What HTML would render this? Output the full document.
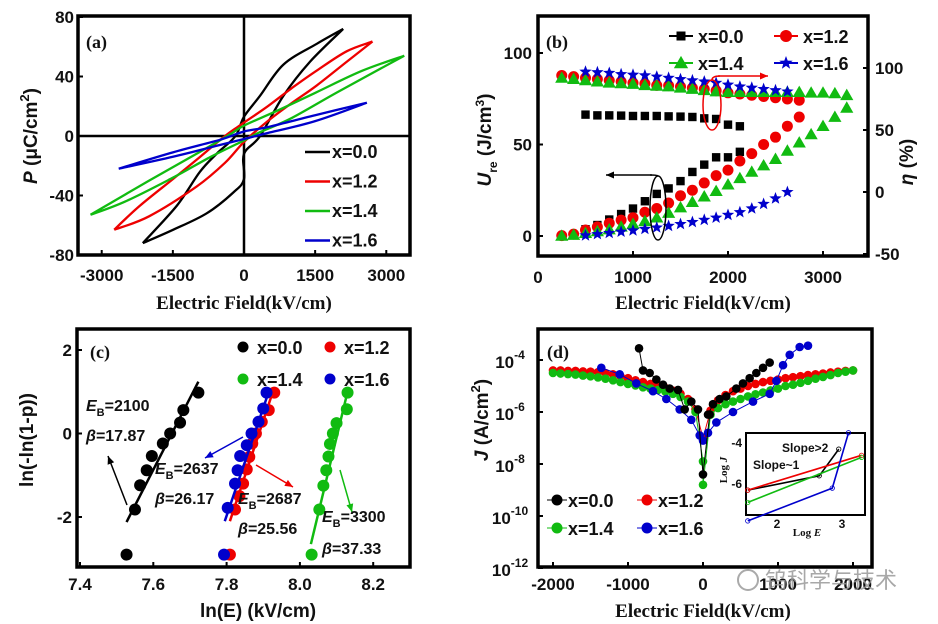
<!DOCTYPE html>
<html><head><meta charset="utf-8">
<style>
html,body{margin:0;padding:0;background:#fff;}
svg{display:block;}
.tk{font-family:"Liberation Sans",sans-serif;font-weight:bold;font-size:17px;fill:#111;}
.tt{font-family:"Liberation Serif",serif;font-weight:bold;font-size:19px;fill:#111;}
.yt{font-family:"Liberation Sans",sans-serif;font-weight:bold;font-size:19px;fill:#111;}
.lg{font-family:"Liberation Sans",sans-serif;font-weight:bold;font-size:18px;fill:#111;}
.an{font-family:"Liberation Sans",sans-serif;font-weight:bold;font-size:16px;fill:#111;}
.pl{font-family:"Liberation Serif",serif;font-weight:bold;font-size:18px;fill:#111;}
</style></head>
<body>
<svg id="fig" width="938" height="624" viewBox="0 0 938 624" xmlns="http://www.w3.org/2000/svg">
<g id="gA"></g>
<g id="gB"></g>
<g id="gC"></g>
<g id="gD"></g>
<text x="765" y="588" style="font-family:'Liberation Sans','Noto Sans CJK SC',sans-serif;font-size:22px;fill:#999;opacity:0.85">钨科学与技术</text>
<circle cx="748" cy="580" r="10" fill="none" stroke="#aaa" stroke-width="2"/>
</svg>
<script>
// ---------- Panel (a) data: P-E loops ----------
const aSeriesNames = ["x=0.0","x=1.2","x=1.4","x=1.6"];
const aColors = ["#000","#e00","#1b1","#00c"];
const aUpperE = [
 [2092,1535,830,338,0,-180,-577,-928,-1420,-2134],
 [2710,2169,1535,1000,500,0,-400,-1000,-1500,-2200,-2737],
 [3380,2500,1500,700,0,-300,-1000,-2000,-3236],
 [2592,1500,500,0,-500,-1500,-2641]];
const aUpperP = [
 [72,62,48,27,13,0,-12,-24,-47,-72],
 [63.5,57,44,32,20,9,0,-16,-29,-47,-63],
 [54,44,29,17,7,1,-12,-30,-53],
 [22.4,14,6,3,-2.5,-11,-22]];
const aLowerE = [
 [-2134,-1491,-787,-225,0,0,340,830,1394,2092],
 [-2737,-2000,-1000,-400,0,500,1000,1535,2169,2710],
 [-3236,-2500,-1500,-700,0,300,1000,2000,3380],
 [-2641,-1500,-500,0,500,1500,2592]];
const aLowerP = [
 [-72,-63,-52,-38,-29,-12,0,27,50,72],
 [-63,-54,-34,-18,-4,10,22,34,50,63.5],
 [-53,-44,-28,-14,-3,2,12,30,54],
 [-22,-14,-6,-2,2,10,22.4]];
const aXTicks = [-3000,-1500,0,1500,3000];
const aYTicks = [80,40,0,-40,-80];

// ---------- Panel (b) data ----------
const bE0 = [500,625,750,875,1000,1125,1250,1375,1500,1625,1750,1875,2000,2125];
const bU0 = [3.7,6,9,12,15,19,23,26,30,35,39,43,43,46];
const bEta0 = [62.4,61.8,61.8,61.6,61.3,61.3,61.3,61,60.8,60.5,59.4,58.9,54.3,53];
const bE1 = [250,375,500,625,750,875,1000,1125,1250,1375,1500,1625,1750,1875,2000,2125,2250,2375,2500,2625,2750];
const bU1 = [0.2,1,3.3,5,7,8.7,10,13,15,18,22,25,29,33,36,41,45,50,54,60,65];
const bEta1 = [94,93,92,91,90,89,88,87.4,86,85.8,85,84,83,81.7,80,79,78,77,76,75,74];
const bE2 = [250,375,500,625,750,875,1000,1125,1250,1375,1500,1625,1750,1875,2000,2125,2250,2375,2500,2625,2750,2875,3000,3125,3250];
const bU2 = [0,0.5,1.5,2.5,3.5,5,6.5,8,10,12.5,15.5,18.5,21.5,24.5,28,31.5,35,38.5,42,46.5,51,55.5,60,65,70];
const bEta2 = [92,91,90,89,88,87.5,87,86,85.5,85,84,83,82,81,80.5,80.5,80.5,80.5,80.5,80.5,80.5,80,80,79.5,78];
const bE3 = [500,625,750,875,1000,1125,1250,1375,1500,1625,1750,1875,2000,2125,2250,2375,2500,2625];
const bU3 = [0.3,1,1.6,2.3,3,3.8,4.6,5.5,6.5,7.6,8.8,10,11.5,13,15,17.5,20.5,24];
const bEta3 = [97,96.5,96,95,94.5,94,93,92,91,90,89,88,86.5,85,84,83,82,81];
const bXTicks = [0,1000,2000,3000];
const bYLTicks = [0,50,100];
const bYRTicks = [-50,0,50,100];

// ---------- Panel (c) data: Weibull ----------
const cX0 = [7.527,7.55,7.564,7.582,7.596,7.626,7.646,7.673,7.682,7.723];
const cY0 = [-2.9,-1.82,-1.24,-0.88,-0.54,-0.24,0,0.26,0.56,0.98];
const cX1 = [7.809,7.823,7.835,7.845,7.855,7.862,7.87,7.88,7.896,7.915,7.93];
const cY1 = [-2.9,-1.82,-1.5,-1.2,-0.86,-0.56,-0.24,0,0.28,0.56,0.98];
const cX2 = [8.032,8.053,8.064,8.072,8.078,8.082,8.09,8.1,8.128,8.13];
const cY2 = [-2.9,-1.82,-1.25,-0.88,-0.55,-0.25,0,0.25,0.58,0.98];
const cX3 = [7.793,7.803,7.823,7.83,7.837,7.855,7.868,7.887,7.9,7.909];
const cY3 = [-2.9,-1.78,-1.2,-0.88,-0.54,-0.28,0,0.28,0.6,0.98];
const cFitX = [[7.527,7.723],[7.809,7.93],[8.03,8.13],[7.795,7.915]];
const cFitY = [[-2.12,1.24],[-2.1,1.1],[-2.65,1.0],[-2.1,1.0]];
const cXTicks = [7.4,7.6,7.8,8.0,8.2];
const cYTicks = [2,0,-2];

// ---------- Panel (d) data: leakage (log10 J) ----------
const dE0 = [-853,-800,-711,-622,-533,-444,-333,-244,-156,-67,0,89,67,133,222,311,444,533,622,711,800,889];
const dL0 = [-3.55,-4.4,-4.5,-4.75,-4.95,-5.1,-5.15,-5.9,-5.6,-5.9,-8.4,-6.1,-6.1,-5.7,-5.5,-5.4,-5.1,-4.9,-4.7,-4.5,-4.3,-4.1];
const dE1 = [-2000,-1900,-1800,-1700,-1600,-1500,-1400,-1300,-1200,-1100,-1000,-900,-800,-700,-600,-500,-400,-300,-200,-100,0,100,200,300,400,500,600,700,800,900,1000,1100,1200,1300,1400,1500,1600,1700,1800,1900,2000];
const dL1 = [-4.4,-4.4,-4.42,-4.42,-4.44,-4.45,-4.47,-4.5,-4.55,-4.62,-4.7,-4.78,-4.85,-4.92,-5.0,-5.08,-5.18,-5.3,-5.5,-5.9,-7.0,-5.95,-5.55,-5.35,-5.2,-5.1,-5.0,-4.92,-4.85,-4.8,-4.75,-4.7,-4.66,-4.62,-4.58,-4.55,-4.52,-4.48,-4.45,-4.42,-4.4];
const dE2 = [-2000,-1900,-1800,-1700,-1600,-1500,-1400,-1300,-1200,-1100,-1000,-900,-800,-700,-600,-500,-400,-300,-200,-100,0,0,100,200,300,400,500,600,700,800,900,1000,1100,1200,1300,1400,1500,1600,1700,1800,1900,2000];
const dL2 = [-4.5,-4.52,-4.54,-4.56,-4.6,-4.63,-4.67,-4.72,-4.78,-4.85,-4.92,-4.98,-5.05,-5.1,-5.15,-5.22,-5.3,-5.42,-5.6,-6.0,-7.9,-8.8,-6.1,-5.85,-5.7,-5.6,-5.5,-5.4,-5.32,-5.25,-5.17,-5.1,-5.0,-4.95,-4.88,-4.8,-4.72,-4.65,-4.58,-4.5,-4.45,-4.4];
const dE3 = [-1356,-1111,-889,-667,-489,-311,-156,-44,0,67,178,400,667,889,978,1067,1156,1289,1400];
const dL3 = [-4.3,-4.55,-4.9,-5.2,-5.5,-5.9,-6.3,-6.9,-7.1,-6.8,-6.4,-6.0,-5.6,-5.3,-4.8,-4.2,-3.8,-3.5,-3.45];
const dXTicks = [-2000,-1000,0,1000,2000];
const dYTicks = [-4,-6,-8,-10,-12];
// inset
const inSegX = [[1.55,2.65,2.95],[1.55,3.3],[1.55,3.3],[1.55,2.85,3.1]];
const inSegY = [[-6.3,-5.6,-4.3],[-6.3,-4.6],[-6.9,-4.7],[-7.8,-6.2,-3.5]];

// ---------- helpers ----------
const NS="http://www.w3.org/2000/svg";
function lin(d0,d1,r0,r1){return v=>r0+(v-d0)*(r1-r0)/(d1-d0);}
function mk(parent,tag,attrs,text){const e=document.createElementNS(NS,tag);for(const k in attrs)e.setAttribute(k,attrs[k]);if(text!==undefined)e.textContent=text;parent.appendChild(e);return e;}
function smooth(p){ // catmull-rom through pixel points
  let d='M'+p[0][0].toFixed(1)+' '+p[0][1].toFixed(1);
  for(let i=0;i<p.length-1;i++){
    const p0=p[i-1]||p[i],p1=p[i],p2=p[i+1],p3=p[i+2]||p2;
    const c1=[p1[0]+(p2[0]-p0[0])/6,p1[1]+(p2[1]-p0[1])/6];
    const c2=[p2[0]-(p3[0]-p1[0])/6,p2[1]-(p3[1]-p1[1])/6];
    d+=` C${c1[0].toFixed(1)} ${c1[1].toFixed(1)} ${c2[0].toFixed(1)} ${c2[1].toFixed(1)} ${p2[0].toFixed(1)} ${p2[1].toFixed(1)}`;
  }
  return d;
}
function frame(g,x0,y0,x1,y1){
  const r=mk(g,'rect',{x:x0,y:y0,width:x1-x0,height:y1-y0,fill:'none',stroke:'#000','stroke-width':3.5});
  
  
}
function marker(g,type,x,y,c,s){
  let e;
  if(type==='sq'){e=mk(g,'rect',{x:x-s,y:y-s,width:2*s,height:2*s,fill:c});}
  else if(type==='ci'){e=mk(g,'circle',{cx:x,cy:y,r:s,fill:c});}
  else if(type==='tr'){e=mk(g,'polygon',{points:`${x},${y-s*1.1} ${x-s*1.1},${y+s*0.8} ${x+s*1.1},${y+s*0.8}`,fill:c});}
  else {let p=[];for(let i=0;i<10;i++){const a=-Math.PI/2+i*Math.PI/5;const r=i%2?s*0.42:s;p.push((x+r*Math.cos(a)).toFixed(1)+','+(y+r*Math.sin(a)).toFixed(1));}e=mk(g,'polygon',{points:p.join(' '),fill:c});}
  return e;
}
function arrow(g,x1,y1,x2,y2,c){
  mk(g,'line',{x1,y1,x2,y2,stroke:c,'stroke-width':1.5});
  const a=Math.atan2(y2-y1,x2-x1),L=8,W=3.5;
  mk(g,'polygon',{points:`${x2},${y2} ${x2-L*Math.cos(a)+W*Math.sin(a)},${y2-L*Math.sin(a)-W*Math.cos(a)} ${x2-L*Math.cos(a)-W*Math.sin(a)},${y2-L*Math.sin(a)+W*Math.cos(a)}`,fill:c});
}

// ---------- Panel A ----------
(function(){
 const g=document.getElementById('gA');
 const sx=lin(-3500,3500,78,410), sy=lin(-80,80,255,17);
 mk(g,'line',{x1:sx(0),y1:17,x2:sx(0),y2:255,stroke:'#000','stroke-width':2.5});
 mk(g,'line',{x1:78,y1:sy(0),x2:410,y2:sy(0),stroke:'#000','stroke-width':2.5});
 for(let i=0;i<4;i++){
   const up=aUpperE[i].map((e,j)=>[sx(e),sy(aUpperP[i][j])]);
   const lo=aLowerE[i].map((e,j)=>[sx(e),sy(aLowerP[i][j])]);
   const p=mk(g,'path',{d:smooth(up)+' '+smooth(lo),fill:'none',stroke:aColors[i],'stroke-width':2.3,'stroke-linejoin':'round'});
   
   
   const ly=152+i*29.5;
   mk(g,'line',{x1:305,y1:ly,x2:330,y2:ly,stroke:aColors[i],'stroke-width':2.5});
   const t=mk(g,'text',{x:332,y:ly+6,class:'lg'},aSeriesNames[i]);
   
   
 }
 frame(g,78,16,410,255);
 aXTicks.forEach(v=>{mk(g,'line',{x1:sx(v),y1:255,x2:sx(v),y2:250,stroke:'#000','stroke-width':2});
   const t=mk(g,'text',{x:sx(v),y:281,class:'tk','text-anchor':'middle'},String(v));
   });
 aYTicks.forEach(v=>{mk(g,'line',{x1:78,y1:sy(v),x2:83,y2:sy(v),stroke:'#000','stroke-width':2});
   const t=mk(g,'text',{x:74,y:sy(v)+6,class:'tk','text-anchor':'end'},String(v));
   });
 let t=mk(g,'text',{x:244,y:309,class:'tt','text-anchor':'middle'},'Electric Field(kV/cm)');
 
 t=mk(g,'text',{x:0,y:0,class:'yt','text-anchor':'middle',transform:'translate(37,136) rotate(-90)'});
 t.innerHTML='<tspan font-style="italic">P</tspan> (μC/cm<tspan dy="-8" font-size="13">2</tspan><tspan dy="8">)</tspan>';
 
 t=mk(g,'text',{x:86,y:48,class:'pl'},'(a)');
 
})();

// ---------- Panel B ----------
(function(){
 const g=document.getElementById('gB');
 const sx=lin(0,1000,538,633), syL=lin(0,100,236,53), syR=lin(0,100,192,68);
 const sets=[[bE0,bU0,bEta0,'sq','#000',4.2],[bE1,bU1,bEta1,'ci','#e00',5.5],[bE2,bU2,bEta2,'tr','#1b1',6],[bE3,bU3,bEta3,'st','#00c',6.5]];
 sets.forEach(([E,U,H,ty,c,s],i)=>{
   E.forEach((e,j)=>{const m=marker(g,ty,sx(e),syR(H[j]),c,s);
     });
 });
 sets.forEach(([E,U,H,ty,c,s],i)=>{
   E.forEach((e,j)=>{const m=marker(g,ty,sx(e),syL(U[j]),c,s);
     });
 });
 mk(g,'ellipse',{cx:712,cy:105,rx:9,ry:25,fill:'none',stroke:'#e00','stroke-width':1.5});
 mk(g,'path',{d:'M712 80 Q712 76 720 76',fill:'none',stroke:'#e00','stroke-width':1.5});
 arrow(g,718,76,768,76,'#e00');
 mk(g,'ellipse',{cx:658,cy:208,rx:8,ry:32,fill:'none',stroke:'#000','stroke-width':1.5});
 mk(g,'path',{d:'M658 176 Q658 175 650 175',fill:'none',stroke:'#000','stroke-width':1.5});
 arrow(g,652,175,606,175,'#000');
 frame(g,538,16,868,256);
 bXTicks.forEach(v=>{mk(g,'line',{x1:sx(v),y1:256,x2:sx(v),y2:251,stroke:'#000','stroke-width':2});
   const t=mk(g,'text',{x:sx(v),y:283,class:'tk','text-anchor':'middle'},String(v));
   });
 bYLTicks.forEach(v=>{mk(g,'line',{x1:538,y1:syL(v),x2:543,y2:syL(v),stroke:'#000','stroke-width':2});
   const t=mk(g,'text',{x:532,y:syL(v)+6,class:'tk','text-anchor':'end'},String(v));
   });
 bYRTicks.forEach(v=>{mk(g,'line',{x1:868,y1:syR(v),x2:863,y2:syR(v),stroke:'#000','stroke-width':2});
   const t=mk(g,'text',{x:875,y:syR(v)+6,class:'tk'},String(v));
   });
 const leg=[['x=0.0','sq','#000',4.5,681,36],['x=1.2','ci','#e00',6,786,36],['x=1.4','tr','#1b1',6.5,681,63],['x=1.6','st','#00c',7,786,63]];
 leg.forEach(([n,ty,c,s,x,y])=>{
   mk(g,'line',{x1:x-12,y1:y,x2:x+12,y2:y,stroke:c,'stroke-width':2});
   marker(g,ty,x,y,c,s);
   const t=mk(g,'text',{x:x+17,y:y+7,class:'lg'},n);
   
 });
 let t=mk(g,'text',{x:703,y:309,class:'tt','text-anchor':'middle'},'Electric Field(kV/cm)');
 
 t=mk(g,'text',{x:0,y:0,class:'yt','text-anchor':'middle',transform:'translate(491,140) rotate(-90)'});
 t.innerHTML='<tspan font-style="italic">U</tspan><tspan dy="6" font-size="12">re</tspan><tspan dy="-6"> (J/cm</tspan><tspan dy="-7" font-size="12">3</tspan><tspan dy="7">)</tspan>';
 
 t=mk(g,'text',{x:0,y:0,class:'yt','text-anchor':'middle',transform:'translate(913,162) rotate(-90)'});
 t.innerHTML='<tspan font-style="italic">η</tspan> (%)';
 
 t=mk(g,'text',{x:546,y:48,class:'pl'},'(b)');
 
})();

// ---------- Panel C ----------
(function(){
 const g=document.getElementById('gC');
 const sx=lin(7.4,7.6,80,153.3), sy=lin(-2,2,517,350);
 const cols=['#000','#e00','#1b1','#00c'];
 const X=[cX0,cX1,cX2,cX3], Y=[cY0,cY1,cY2,cY3];
 [1,3,0,2].forEach(i=>{
   X[i].forEach((x,j)=>{const m=marker(g,'ci',sx(x),sy(Y[i][j]),cols[i],6);
     });
   const l=mk(g,'line',{x1:sx(cFitX[i][0]),y1:sy(cFitY[i][0]),x2:sx(cFitX[i][1]),y2:sy(cFitY[i][1]),stroke:cols[i],'stroke-width':2.5});
   
 });
 arrow(g,127,505,108,456,'#000');
 arrow(g,243,437,205,458,'#00c');
 arrow(g,256,465,293,487,'#e00');
 arrow(g,340,470,352,512,'#1b1');
 const ann=[['2100','17.87',86,411,441],['2637','26.17',155,474,504],['2687','25.56',238,504,534],['3300','37.33',322,522,554]];
 ann.forEach(([e,b,x,y1,y2])=>{
   let t=mk(g,'text',{x,y:y1,class:'an'});
   t.innerHTML='<tspan font-style="italic">E</tspan><tspan dy="5" font-size="11">B</tspan><tspan dy="-5">='+e+'</tspan>';
   
   t=mk(g,'text',{x,y:y2,class:'an'});
   t.innerHTML='<tspan font-style="italic">β</tspan>='+b;
   
 });
 const leg=[['x=0.0','#000',243,347],['x=1.2','#e00',330,347],['x=1.4','#1b1',243,379],['x=1.6','#00c',330,379]];
 leg.forEach(([n,c,x,y])=>{marker(g,'ci',x,y,c,5.5);
   const t=mk(g,'text',{x:x+14,y:y+7,class:'lg'},n);
   });
 frame(g,77,329,410,567);
 cXTicks.forEach(v=>{mk(g,'line',{x1:sx(v),y1:567,x2:sx(v),y2:562,stroke:'#000','stroke-width':2});
   const t=mk(g,'text',{x:sx(v),y:590,class:'tk','text-anchor':'middle'},v.toFixed(1));
   });
 cYTicks.forEach(v=>{mk(g,'line',{x1:77,y1:sy(v),x2:82,y2:sy(v),stroke:'#000','stroke-width':2});
   const t=mk(g,'text',{x:72,y:sy(v)+6,class:'tk','text-anchor':'end'},String(v));
   });
 let t=mk(g,'text',{x:258,y:617,class:'yt','text-anchor':'middle'},'ln(E) (kV/cm)');
 
 t=mk(g,'text',{x:0,y:0,class:'yt','text-anchor':'middle',transform:'translate(33,440) rotate(-90)'},'ln(-ln(1-p))');
 
 t=mk(g,'text',{x:90,y:358,class:'pl'},'(c)');
 
})();

// ---------- Panel D ----------
(function(){
 const g=document.getElementById('gD');
 const sx=lin(-1000,1000,628,778), sy=lin(-4,-12,360,568);
 const cols=['#000','#e00','#1b1','#00c'];
 const E=[dE0,dE1,dE2,dE3], L=[dL0,dL1,dL2,dL3];
 [1,2,3,0].forEach(i=>{
   const pts=E[i].map((e,j)=>sx(e).toFixed(1)+','+sy(L[i][j]).toFixed(1));
   const p=mk(g,'polyline',{points:pts.join(' '),fill:'none',stroke:cols[i],'stroke-width':1});
   
   E[i].forEach((e,j)=>{const m=marker(g,'ci',sx(e),sy(L[i][j]),cols[i],4.3);
     });
 });
 // inset
 const ix=lin(2,3,777,842), iy=lin(-4,-6,443,484);
 const box=mk(g,'rect',{x:746,y:433,width:119,height:82,fill:'#fff',stroke:'#000','stroke-width':2});
 
 inSegX.forEach((xs,i)=>{
   const pts=xs.map((x,j)=>ix(x).toFixed(1)+','+iy(inSegY[i][j]).toFixed(1));
   const p=mk(g,'polyline',{points:pts.join(' '),fill:'none',stroke:cols[i],'stroke-width':1.6});
   
   xs.forEach((x,j)=>{mk(g,'circle',{cx:ix(x),cy:iy(inSegY[i][j]),r:2.2,fill:'none',stroke:cols[i],'stroke-width':0.8});});
 });
 mk(g,'text',{x:782,y:452,class:'an'},'Slope>2').setAttribute('style','font-size:12px');
 mk(g,'text',{x:753,y:469,class:'an'},'Slope~1').setAttribute('style','font-size:12px');
 [-4,-6].forEach(v=>{mk(g,'text',{x:742,y:iy(v)+4,class:'tk','text-anchor':'end',style:'font-size:12px'},String(v));});
 [2,3].forEach(v=>{mk(g,'text',{x:ix(v),y:528,class:'tk','text-anchor':'middle',style:'font-size:12px'},String(v));});
 mk(g,'text',{x:807,y:536,class:'pl','text-anchor':'middle',style:'font-size:11px'}).innerHTML='Log <tspan font-style="italic">E</tspan>';
 mk(g,'text',{x:0,y:0,class:'pl','text-anchor':'middle',style:'font-size:11px',transform:'translate(727,470) rotate(-90)'}).innerHTML='Log <tspan font-style="italic">J</tspan>';
 const leg=[['x=0.0','#000',557,500],['x=1.2','#e00',647,500],['x=1.4','#1b1',557,528],['x=1.6','#00c',647,528]];
 leg.forEach(([n,c,x,y])=>{mk(g,'line',{x1:x-10,y1:y,x2:x+10,y2:y,stroke:c,'stroke-width':1});marker(g,'ci',x,y,c,5.5);
   const t=mk(g,'text',{x:x+11,y:y+7,class:'lg'},n);
   });
 frame(g,538,329,872,567);
 dXTicks.forEach(v=>{mk(g,'line',{x1:sx(v),y1:567,x2:sx(v),y2:562,stroke:'#000','stroke-width':2});
   const t=mk(g,'text',{x:sx(v),y:590,class:'tk','text-anchor':'middle'},String(v));
   });
 dYTicks.forEach(v=>{mk(g,'line',{x1:538,y1:sy(v),x2:543,y2:sy(v),stroke:'#000','stroke-width':2});
   const t=mk(g,'text',{x:510,y:sy(v)+8,class:'tk','text-anchor':'middle'});
   t.innerHTML='10<tspan dy="-9" font-size="12">'+v+'</tspan>';
   });
 let t=mk(g,'text',{x:703,y:617,class:'tt','text-anchor':'middle'},'Electric Field(kV/cm)');
 
 t=mk(g,'text',{x:0,y:0,class:'yt','text-anchor':'middle',transform:'translate(488,420) rotate(-90)'});
 t.innerHTML='<tspan font-style="italic">J</tspan> (A/cm<tspan dy="-8" font-size="13">2</tspan><tspan dy="8">)</tspan>';
 
 t=mk(g,'text',{x:547,y:358,class:'pl'},'(d)');
 
})();
</script>
</body></html>
